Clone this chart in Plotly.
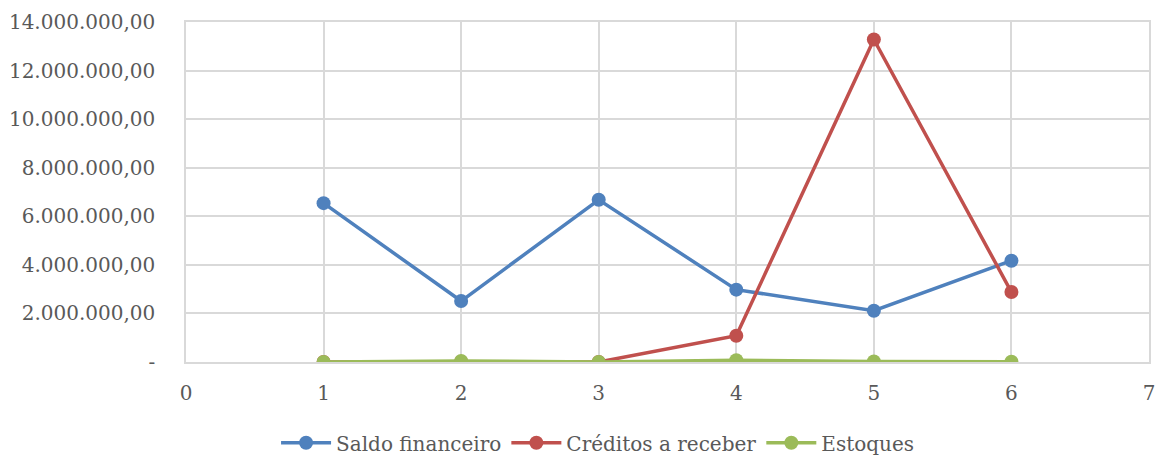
import plotly.graph_objects as go

# Data
periods = [1, 2, 3, 4, 5, 6]
saldo_financeiro = [6540000, 2510000, 6680000, 2980000, 2110000, 4170000]
creditos_receber = [0, 10000, 0, 1080000, 13280000, 2880000]
estoques = [0, 40000, 0, 70000, 20000, 10000]

y_tickvals = [0, 2000000, 4000000, 6000000, 8000000, 10000000, 12000000, 14000000]
y_ticktext = ['-', '2.000.000,00', '4.000.000,00', '6.000.000,00', '8.000.000,00',
              '10.000.000,00', '12.000.000,00', '14.000.000,00']
x_tickvals = [0, 1, 2, 3, 4, 5, 6, 7]

COLORS = {
    'saldo': '#4f81bd',
    'creditos': '#c0504d',
    'estoques': '#9bbb59',
    'grid': '#d9d9d9',
    'text': '#595959',
}

FONT = 'DejaVu Serif, serif'

fig = go.Figure()
series = [
    ('Saldo financeiro', saldo_financeiro, COLORS['saldo']),
    ('Créditos a receber', creditos_receber, COLORS['creditos']),
    ('Estoques', estoques, COLORS['estoques']),
]
for name, values, color in series:
    fig.add_trace(go.Scatter(
        x=periods, y=values, name=name, mode='lines+markers',
        line=dict(color=color, width=3.5),
        marker=dict(color=color, size=14),
    ))

# page body has an 8px margin, so the figure is sized to fill the rest
fig.update_layout(
    width=1156, height=451,
    paper_bgcolor='#ffffff', plot_bgcolor='#ffffff',
    font=dict(family=FONT, size=20, color=COLORS['text']),
    margin=dict(l=178, r=15, t=14, b=97, autoexpand=False),
    showlegend=True,
    legend=dict(
        orientation='h', xref='container', x=0.51, xanchor='center',
        y=-0.18, yanchor='top',
        font=dict(size=20, color=COLORS['text']),
        itemwidth=50,
    ),
)
fig.update_xaxes(
    range=[0, 7], tickvals=x_tickvals, showgrid=True, gridcolor=COLORS['grid'],
    gridwidth=1.5, zeroline=False, showline=True, linecolor=COLORS['grid'],
    linewidth=1.5, mirror=True, ticks='outside', ticklen=12,
    tickcolor='rgba(0,0,0,0)', automargin=False,
)
fig.update_yaxes(
    range=[0, 14000000], tickvals=y_tickvals, ticktext=y_ticktext,
    showgrid=True, gridcolor=COLORS['grid'], gridwidth=1.5, zeroline=False,
    showline=True, linecolor=COLORS['grid'], linewidth=1.5, mirror=True,
    ticks='outside', ticklen=25, tickcolor='rgba(0,0,0,0)', automargin=False,
)

fig.write_html('out.html')
